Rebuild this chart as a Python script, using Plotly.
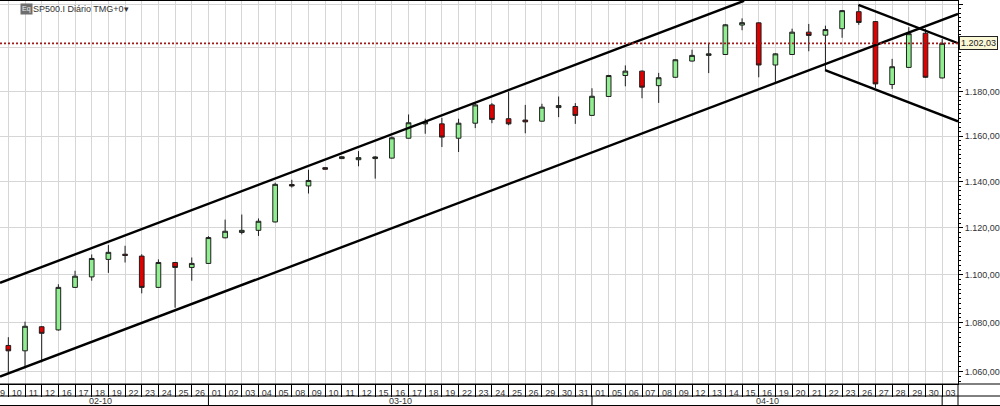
import math
import plotly.graph_objects as go

# ---------------- data ----------------
trade_dates = [
    "2010-02-09", "2010-02-10", "2010-02-11", "2010-02-12", "2010-02-16", "2010-02-17", "2010-02-18",
    "2010-02-19", "2010-02-22", "2010-02-23", "2010-02-24", "2010-02-25", "2010-02-26",
    "2010-03-01", "2010-03-02", "2010-03-03", "2010-03-04", "2010-03-05", "2010-03-08", "2010-03-09",
    "2010-03-10", "2010-03-11", "2010-03-12", "2010-03-15", "2010-03-16", "2010-03-17", "2010-03-18",
    "2010-03-19", "2010-03-22", "2010-03-23", "2010-03-24", "2010-03-25", "2010-03-26", "2010-03-29",
    "2010-03-30", "2010-03-31",
    "2010-04-01", "2010-04-05", "2010-04-06", "2010-04-07", "2010-04-08", "2010-04-09", "2010-04-12",
    "2010-04-13", "2010-04-14", "2010-04-15", "2010-04-16", "2010-04-19", "2010-04-20", "2010-04-21",
    "2010-04-22", "2010-04-23", "2010-04-26", "2010-04-27", "2010-04-28", "2010-04-29", "2010-04-30",
    "2010-05-03",
]

# candles from 2010-02-10 to 2010-05-03 (the 02-09 bar is off-screen)
opens = [1070.6, 1068.4, 1078.3, 1077.0, 1094.7, 1099.1, 1106.5, 1108.7, 1107.9, 1094.7,
         1105.2, 1103.1, 1104.8, 1115.7, 1118.0, 1118.9, 1122.5, 1138.7, 1138.1, 1146.1,
         1150.1, 1149.6, 1150.1, 1150.3, 1159.1, 1165.5, 1165.5, 1159.1, 1165.8, 1174.0,
         1167.8, 1167.2, 1166.7, 1172.8, 1173.3, 1169.3, 1177.8, 1187.3, 1189.3, 1182.7,
         1186.5, 1193.9, 1196.5, 1196.9, 1210.5, 1211.5, 1192.1, 1196.9, 1207.2, 1205.8,
         1208.8, 1216.7, 1212.1, 1183.2, 1191.0, 1206.7, 1186.2]
highs = [1074.0, 1080.4, 1078.6, 1096.0, 1101.7, 1108.6, 1112.6, 1112.3, 1108.7, 1106.5,
         1105.4, 1107.3, 1116.4, 1123.5, 1125.7, 1124.0, 1139.5, 1140.8, 1145.2, 1146.4,
         1151.2, 1153.4, 1151.2, 1159.9, 1169.7, 1167.8, 1168.2, 1167.8, 1175.2, 1174.8,
         1180.0, 1174.0, 1174.5, 1177.8, 1174.8, 1181.5, 1187.6, 1191.9, 1189.6, 1188.5,
         1194.7, 1199.1, 1201.8, 1211.0, 1213.6, 1211.8, 1197.5, 1208.8, 1211.0, 1210.2,
         1217.5, 1219.9, 1212.3, 1194.9, 1209.5, 1208.8, 1204.0]
lows = [1059.3, 1061.3, 1063.7, 1076.7, 1094.5, 1097.5, 1100.8, 1105.2, 1092.2, 1094.5,
        1086.2, 1097.5, 1104.6, 1115.5, 1117.2, 1116.5, 1122.3, 1137.4, 1134.8, 1145.2,
        1149.9, 1146.7, 1141.3, 1150.1, 1159.0, 1161.1, 1155.2, 1153.0, 1163.6, 1165.8,
        1164.9, 1161.3, 1166.5, 1168.5, 1165.5, 1169.1, 1177.6, 1182.4, 1177.0, 1174.9,
        1186.3, 1193.7, 1188.4, 1196.7, 1208.1, 1186.5, 1183.5, 1196.7, 1198.4, 1189.6,
        1204.6, 1210.6, 1181.7, 1181.2, 1190.8, 1186.2, 1186.0]
closes = [1068.4, 1078.5, 1075.6, 1094.7, 1099.4, 1106.9, 1109.5, 1108.2, 1094.7, 1105.2,
          1103.1, 1104.8, 1115.8, 1118.5, 1118.9, 1122.8, 1138.8, 1138.1, 1140.5, 1145.4,
          1150.9, 1150.5, 1150.8, 1159.3, 1166.0, 1166.3, 1159.6, 1165.8, 1174.0, 1167.5,
          1165.5, 1166.4, 1173.0, 1173.7, 1169.3, 1177.9, 1187.3, 1189.3, 1182.0, 1186.3,
          1194.5, 1196.5, 1197.2, 1210.6, 1211.6, 1192.1, 1197.2, 1207.2, 1205.7, 1208.4,
          1217.2, 1211.7, 1183.5, 1191.3, 1206.5, 1186.5, 1202.03]

last_price = 1202.03
y_major = [1060, 1080, 1100, 1120, 1140, 1160, 1180, 1200, 1220]
y_minor_step = 2

# hand-drawn trend lines: (bar index, price) pairs
upper_channel = [(0.50, 1096.6), (45.12, 1221.8)]
lower_channel = [(0.50, 1057.9), (57.95, 1215.7)]
down_upper = [(51.98, 1219.9), (57.95, 1202.1)]
down_lower = [(49.98, 1189.8), (57.95, 1166.6)]

title_text = "SP500.I Diário TMG+0▾"

# ---------------- helpers ----------------
def br(v):
    s = f"{v:,.2f}"
    return s.replace(",", "X").replace(".", ",").replace("X", ".")

n = len(trade_dates)
idx = list(range(n))
candle_x = idx[1:]
day_labels = [d[8:10] for d in trade_dates]
months = [d[:7] for d in trade_dates]

FONT = "Arial, Liberation Sans, sans-serif"
X_RANGE = [0.5, 57.95]
Y_RANGE = [math.log10(1054.9), math.log10(1221.7)]

fig = go.Figure()

fig.add_trace(go.Candlestick(
    x=candle_x, open=opens, high=highs, low=lows, close=closes,
    increasing=dict(fillcolor="#90ee90", line=dict(color="#1e1e1e", width=1)),
    decreasing=dict(fillcolor="#e00000", line=dict(color="#1e1e1e", width=1)),
    whiskerwidth=0, showlegend=False, hoverinfo="skip",
))

for line in (upper_channel, lower_channel, down_upper, down_lower):
    fig.add_trace(go.Scatter(
        x=[p[0] for p in line], y=[p[1] for p in line], mode="lines",
        line=dict(color="black", width=2.4), showlegend=False, hoverinfo="skip"))

fig.add_trace(go.Scatter(
    x=X_RANGE, y=[last_price, last_price], mode="lines",
    line=dict(color="#a01818", width=1.6, dash="2px,2px"), showlegend=False, hoverinfo="skip"))

# y ticks
y_minor = [v for v in range(1054, 1222, y_minor_step) if v not in y_major]
y_text = [br(v) if v <= 1180 else "" for v in y_major]

# month boundaries and labels
month_bounds = [i for i in range(1, n) if months[i] != months[i - 1]]
starts = [0] + month_bounds
ends = month_bounds + [n]

shapes = []
PLOT_H = 383.0
def py(px_below):  # pixels below the plot bottom -> paper y
    return -px_below / PLOT_H

shapes.append(dict(type="line", xref="paper", yref="paper", x0=0, x1=1.05,
                   y0=py(12), y1=py(12), line=dict(color="black", width=1)))
shapes.append(dict(type="line", xref="paper", yref="paper", x0=0, x1=1.05,
                   y0=py(21.5), y1=py(21.5), line=dict(color="black", width=1)))
shapes.append(dict(type="line", xref="paper", yref="paper", x0=0, x1=1.05,
                   y0=0, y1=0, line=dict(color="black", width=1)))
shapes.append(dict(type="line", xref="paper", yref="paper", x0=1, x1=1,
                   y0=0, y1=py(22), line=dict(color="black", width=1)))
for b in month_bounds:
    shapes.append(dict(type="line", xref="x", yref="paper", x0=b, x1=b,
                       y0=py(12), y1=py(22), line=dict(color="black", width=1)))

annotations = []
for s, e, m in zip(starts, ends, [months[s] for s in starts]):
    if e - s < 3:
        continue
    annotations.append(dict(x=(s + e) / 2, y=py(17), xref="x", yref="paper",
                            text=f"{m[5:7]}-{m[2:4]}", showarrow=False,
                            font=dict(family=FONT, size=9, color="#333"),
                            xanchor="center", yanchor="middle"))

# price label box
annotations.append(dict(x=1.0, y=math.log10(last_price), xref="paper", yref="y",
                        text=br(last_price), showarrow=False, xanchor="left", yanchor="middle",
                        xshift=1, font=dict(family=FONT, size=9, color="#222"),
                        bgcolor="#fbf8d6", bordercolor="#222", borderwidth=1, borderpad=1))
# title
annotations.append(dict(x=0.021, y=0.995, xref="paper", yref="paper", text="Eq",
                        showarrow=False, xanchor="left", yanchor="top",
                        font=dict(family=FONT, size=7, color="#eee"),
                        bgcolor="#6e6e6e", borderpad=1))
annotations.append(dict(x=0.032, y=0.997, xref="paper", yref="paper", text=title_text,
                        showarrow=False, xanchor="left", yanchor="top",
                        font=dict(family=FONT, size=9, color="#333")))

fig.update_layout(
    width=1000, height=406,
    margin=dict(l=0, r=42, t=1, b=22),
    paper_bgcolor="white", plot_bgcolor="white",
    boxgap=0.72, boxgroupgap=0,
    shapes=shapes, annotations=annotations,
    showlegend=False,
)

fig.update_xaxes(
    range=X_RANGE, showline=True, linecolor="black", linewidth=1, mirror=True,
    tickmode="array", tickvals=[i + 0.5 for i in idx], ticktext=day_labels,
    ticks="", showgrid=False, zeroline=False, automargin=False,
    ticklabeloverflow="allow",
    tickfont=dict(family=FONT, size=9, color="#333"),
    rangeslider=dict(visible=False),
    minor=dict(tickmode="array", tickvals=idx[1:], showgrid=True, gridcolor="#d6d6d6",
               gridwidth=1, ticks="outside", ticklen=12, tickcolor="black", tickwidth=1),
)

fig.update_yaxes(
    type="log", range=Y_RANGE, side="right", showline=True, linecolor="black", linewidth=1,
    mirror=True, tickmode="array", tickvals=y_major, ticktext=y_text, automargin=False,
    ticks="outside", ticklen=4, tickcolor="black", showgrid=True, gridcolor="#d6d6d6",
    zeroline=False, tickfont=dict(family=FONT, size=9, color="#333"),
    minor=dict(tickmode="array", tickvals=y_minor, ticks="outside", ticklen=2,
               tickcolor="black", showgrid=False),
)

fig.write_html("out.html", config={"displayModeBar": False},
               post_script="document.body.style.margin='0px';")
